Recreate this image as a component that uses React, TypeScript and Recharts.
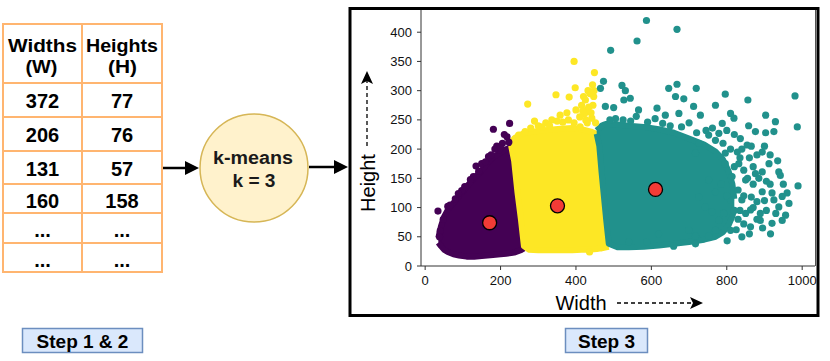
import React from "react";
import { ComposedChart, Area, Scatter, XAxis, YAxis } from "recharts";

const FONT = "'Liberation Sans', Arial, Helvetica, sans-serif";

// ---------- table (Step 1 & 2) ----------
const tableHeaderW = ["Widths", "(W)"];
const tableHeaderH = ["Heights", "(H)"];
const tableWidths = ["372", "206", "131", "160", "...", "..."];
const tableHeights = ["77", "76", "57", "158", "...", "..."];

// ---------- scatter axes ----------
const xTicks = [0, 200, 400, 600, 800, 1000];
const yTicks = [0, 50, 100, 150, 200, 250, 300, 350, 400];

// ---------- dense cluster bodies (x, [low, high]) ----------
const purpleBody = [
  { x: 35, range: [40, 48] },
  { x: 42, range: [34, 68] },
  { x: 50, range: [28, 84] },
  { x: 60, range: [24, 96] },
  { x: 75, range: [20, 108] },
  { x: 90, range: [18, 120] },
  { x: 110, range: [16, 136] },
  { x: 130, range: [16, 150] },
  { x: 150, range: [17, 164] },
  { x: 165, range: [18, 176] },
  { x: 180, range: [19, 186] },
  { x: 200, range: [20, 194] },
  { x: 215, range: [21, 200] },
  { x: 228, range: [22, 204] },
  { x: 236, range: [23, 180] },
  { x: 245, range: [25, 125] },
  { x: 254, range: [27, 80] },
  { x: 262, range: [30, 34] },
];

const yellowBody = [
  { x: 228, range: [206, 212] },
  { x: 236, range: [180, 218] },
  { x: 245, range: [125, 222] },
  { x: 254, range: [80, 225] },
  { x: 262, range: [34, 227] },
  { x: 275, range: [28, 229] },
  { x: 300, range: [27, 231] },
  { x: 330, range: [27, 233] },
  { x: 360, range: [27, 235] },
  { x: 390, range: [27, 236] },
  { x: 415, range: [28, 234] },
  { x: 440, range: [28, 230] },
  { x: 455, range: [29, 226] },
  { x: 462, range: [30, 205] },
  { x: 468, range: [30, 160] },
  { x: 474, range: [31, 120] },
  { x: 480, range: [32, 80] },
  { x: 487, range: [33, 38] },
];

const tealBody = [
  { x: 455, range: [226, 232] },
  { x: 462, range: [205, 236] },
  { x: 468, range: [160, 240] },
  { x: 474, range: [120, 242] },
  { x: 480, range: [80, 243] },
  { x: 487, range: [38, 243] },
  { x: 510, range: [32, 242] },
  { x: 540, range: [32, 240] },
  { x: 580, range: [33, 238] },
  { x: 620, range: [35, 234] },
  { x: 660, range: [38, 228] },
  { x: 700, range: [41, 218] },
  { x: 740, range: [45, 208] },
  { x: 770, range: [50, 196] },
  { x: 790, range: [58, 182] },
  { x: 805, range: [70, 162] },
  { x: 815, range: [85, 140] },
  { x: 820, range: [100, 115] },
];

// ---------- sparse points ----------
const purpleDots = [
  { x: 34, y: 94 }, { x: 97, y: 129 }, { x: 128, y: 153 }, { x: 135, y: 171 },
  { x: 181, y: 234 }, { x: 224, y: 244 }, { x: 217, y: 221 }, { x: 195, y: 198 },
  { x: 168, y: 187 }, { x: 150, y: 175 }, { x: 120, y: 148 }, { x: 205, y: 210 },
  { x: 190, y: 205 }, { x: 210, y: 225 }, { x: 185, y: 200 }, { x: 60, y: 102 },
  { x: 80, y: 115 }, { x: 222, y: 212 }, { x: 40, y: 60 }, { x: 48, y: 80 },
  { x: 66, y: 104 }, { x: 88, y: 124 }, { x: 105, y: 136 }, { x: 142, y: 162 },
  { x: 160, y: 178 }, { x: 175, y: 190 }, { x: 200, y: 202 }, { x: 38, y: 50 },
];

const yellowDots = [
  { x: 272, y: 277 }, { x: 290, y: 248 }, { x: 336, y: 250 }, { x: 347, y: 293 },
  { x: 358, y: 258 }, { x: 376, y: 262 }, { x: 382, y: 289 }, { x: 395, y: 350 },
  { x: 398, y: 305 }, { x: 400, y: 267 }, { x: 411, y: 238 }, { x: 425, y: 284 },
  { x: 429, y: 267 }, { x: 442, y: 253 }, { x: 447, y: 290 }, { x: 444, y: 310 },
  { x: 449, y: 331 }, { x: 423, y: 261 }, { x: 434, y: 272 }, { x: 436, y: 24 },
  { x: 415, y: 275 }, { x: 437, y: 295 }, { x: 430, y: 245 }, { x: 300, y: 240 },
  { x: 320, y: 245 }, { x: 350, y: 248 }, { x: 380, y: 250 }, { x: 248, y: 224 },
  { x: 265, y: 230 }, { x: 410, y: 255 }, { x: 418, y: 265 }, { x: 426, y: 250 },
  { x: 440, y: 262 }, { x: 445, y: 275 }, { x: 452, y: 245 }, { x: 420, y: 290 },
  { x: 432, y: 300 }, { x: 448, y: 300 }, { x: 310, y: 238 }, { x: 365, y: 246 },
  { x: 395, y: 245 }, { x: 240, y: 218 }, { x: 280, y: 236 }, { x: 330, y: 240 },
];

const tealDots = [
  { x: 587, y: 420 }, { x: 668, y: 405 }, { x: 562, y: 385 }, { x: 492, y: 369 },
  { x: 473, y: 316 }, { x: 465, y: 304 }, { x: 522, y: 309 }, { x: 531, y: 300 },
  { x: 646, y: 304 }, { x: 668, y: 311 }, { x: 719, y: 304 }, { x: 664, y: 290 },
  { x: 686, y: 286 }, { x: 796, y: 294 }, { x: 770, y: 275 }, { x: 856, y: 284 },
  { x: 981, y: 291 }, { x: 987, y: 238 }, { x: 989, y: 137 }, { x: 478, y: 273 },
  { x: 500, y: 271 }, { x: 527, y: 284 }, { x: 544, y: 287 }, { x: 566, y: 267 },
  { x: 615, y: 270 }, { x: 637, y: 258 }, { x: 673, y: 261 }, { x: 712, y: 273 },
  { x: 730, y: 258 }, { x: 810, y: 261 }, { x: 819, y: 253 }, { x: 903, y: 258 },
  { x: 929, y: 247 }, { x: 925, y: 230 }, { x: 903, y: 228 }, { x: 876, y: 230 },
  { x: 858, y: 240 }, { x: 788, y: 244 }, { x: 836, y: 218 }, { x: 854, y: 207 },
  { x: 828, y: 195 }, { x: 779, y: 227 }, { x: 752, y: 224 }, { x: 726, y: 210 },
  { x: 717, y: 193 }, { x: 796, y: 193 }, { x: 832, y: 175 }, { x: 912, y: 175 },
  { x: 938, y: 161 }, { x: 942, y: 155 }, { x: 894, y: 161 }, { x: 876, y: 158 },
  { x: 845, y: 164 }, { x: 850, y: 147 }, { x: 814, y: 153 }, { x: 894, y: 127 },
  { x: 920, y: 125 }, { x: 947, y: 119 }, { x: 965, y: 107 }, { x: 938, y: 101 },
  { x: 956, y: 87 }, { x: 947, y: 78 }, { x: 920, y: 73 }, { x: 916, y: 55 },
  { x: 889, y: 90 }, { x: 889, y: 78 }, { x: 863, y: 67 }, { x: 840, y: 50 },
  { x: 801, y: 43 }, { x: 810, y: 61 }, { x: 770, y: 61 }, { x: 752, y: 51 },
  { x: 717, y: 51 }, { x: 699, y: 61 }, { x: 659, y: 34 }, { x: 717, y: 38 },
  { x: 619, y: 55 }, { x: 588, y: 41 }, { x: 540, y: 41 }, { x: 880, y: 110 },
  { x: 863, y: 96 }, { x: 840, y: 113 }, { x: 810, y: 113 }, { x: 792, y: 90 },
  { x: 779, y: 78 }, { x: 761, y: 93 }, { x: 743, y: 101 }, { x: 726, y: 118 },
  { x: 752, y: 147 }, { x: 770, y: 127 }, { x: 796, y: 175 }, { x: 894, y: 195 },
  { x: 925, y: 113 }, { x: 870, y: 140 }, { x: 860, y: 185 }, { x: 905, y: 145 },
  { x: 880, y: 80 }, { x: 905, y: 95 }, { x: 830, y: 80 }, { x: 860, y: 55 },
  { x: 700, y: 245 }, { x: 610, y: 252 }, { x: 560, y: 256 }, { x: 745, y: 232 },
  { x: 830, y: 130 }, { x: 845, y: 120 }, { x: 855, y: 150 }, { x: 870, y: 170 },
  { x: 880, y: 190 }, { x: 900, y: 205 }, { x: 915, y: 190 }, { x: 935, y: 180 },
  { x: 950, y: 140 }, { x: 960, y: 125 }, { x: 870, y: 100 }, { x: 850, y: 90 },
  { x: 835, y: 95 }, { x: 825, y: 62 }, { x: 845, y: 72 }, { x: 895, y: 65 },
  { x: 930, y: 90 }, { x: 900, y: 112 }, { x: 865, y: 118 }, { x: 885, y: 150 },
  { x: 915, y: 140 }, { x: 820, y: 170 }, { x: 835, y: 185 }, { x: 810, y: 200 },
  { x: 790, y: 210 }, { x: 770, y: 215 }, { x: 840, y: 200 }, { x: 865, y: 205 },
  { x: 820, y: 225 }, { x: 800, y: 232 }, { x: 762, y: 236 },
  { x: 490, y: 250 }, { x: 505, y: 252 }, { x: 525, y: 250 }, { x: 545, y: 248 },
  { x: 590, y: 246 }, { x: 630, y: 244 }, { x: 650, y: 240 }, { x: 680, y: 238 },
  { x: 720, y: 228 }, { x: 785, y: 140 }, { x: 800, y: 120 }, { x: 820, y: 95 },
];

const centroids = [
  { x: 171, y: 74 },
  { x: 351, y: 103 },
  { x: 611, y: 131 },
];

const PURPLE = "#440154";
const YELLOW = "#FDE725";
const TEAL = "#21918C";

const makeDot = (color: string, r: number) => (props: any) => (
  <circle cx={props.cx} cy={props.cy} r={r} fill={color} />
);

const Centroid = (props: any) => (
  <circle cx={props.cx} cy={props.cy} r={7} fill="#F23B36" stroke="#000" strokeWidth={1.3} />
);

const rowLines = [83, 117, 151, 184, 213, 243];
const rowBaselines = [108, 142, 176, 208, 237, 267];

function Overlay() {
  const orange = "#FFB570";
  return (
    <svg
      width={830}
      height={361}
      style={{ position: "absolute", left: 0, top: 0, pointerEvents: "none" }}
      fontFamily={FONT}
    >
      {/* table */}
      <rect x={3} y={24} width={159} height={248} fill="none" stroke={orange} strokeWidth={2} />
      <line x1={82} y1={24} x2={82} y2={272} stroke={orange} strokeWidth={2} />
      {rowLines.map((y) => (
        <line key={y} x1={3} y1={y} x2={162} y2={y} stroke={orange} strokeWidth={2} />
      ))}
      <text x={42.5} y={52} textAnchor="middle" fontSize={18} fontWeight="bold" fill="#000" textLength={69} lengthAdjust="spacingAndGlyphs">{tableHeaderW[0]}</text>
      <text x={41.5} y={73} textAnchor="middle" fontSize={18} fontWeight="bold" fill="#000" textLength={32} lengthAdjust="spacingAndGlyphs">{tableHeaderW[1]}</text>
      <text x={122} y={52} textAnchor="middle" fontSize={18} fontWeight="bold" fill="#000" textLength={72} lengthAdjust="spacingAndGlyphs">{tableHeaderH[0]}</text>
      <text x={122.5} y={73} textAnchor="middle" fontSize={18} fontWeight="bold" fill="#000" textLength={29} lengthAdjust="spacingAndGlyphs">{tableHeaderH[1]}</text>
      {tableWidths.map((v, i) => (
        <text key={"w" + i} x={42.5} y={rowBaselines[i]} textAnchor="middle" fontSize={20} fontWeight="bold" fill="#000">{v}</text>
      ))}
      {tableHeights.map((v, i) => (
        <text key={"h" + i} x={122} y={rowBaselines[i]} textAnchor="middle" fontSize={20} fontWeight="bold" fill="#000">{v}</text>
      ))}

      {/* arrow 1 */}
      <line x1={163} y1={168} x2={188} y2={168} stroke="#000" strokeWidth={2.5} />
      <polygon points="185,161 199,168 185,175" fill="#000" />

      {/* k-means circle */}
      <circle cx={254} cy={168} r={54} fill="#FFF2CC" stroke="#D6B656" strokeWidth={1.5} />
      <text x={253} y={164} textAnchor="middle" fontSize={18} fontWeight="bold" fill="#1a1a1a" textLength={80} lengthAdjust="spacingAndGlyphs">k-means</text>
      <text x={254} y={187} textAnchor="middle" fontSize={18} fontWeight="bold" fill="#1a1a1a" textLength={43} lengthAdjust="spacingAndGlyphs">k = 3</text>

      {/* arrow 2 */}
      <line x1={309} y1={167} x2={337} y2={167} stroke="#000" strokeWidth={2.5} />
      <polygon points="334,160 348,167 334,174" fill="#000" />

      {/* step 3 frame */}
      <rect x={350} y={8.5} width={468} height={307} fill="none" stroke="#000" strokeWidth={3} />

      {/* plot right frame line */}
      <line x1={815.5} y1={10} x2={815.5} y2={266} stroke="#555" strokeWidth={1} />

      {/* Height label + dashed arrow */}
      <text x={375} y={183} textAnchor="middle" fontSize={20} fill="#000" transform="rotate(-90 375 183)">Height</text>
      <line x1={367} y1={146} x2={367} y2={80} stroke="#000" strokeWidth={1.3} strokeDasharray="4 3" />
      <polygon points="367,71 373,84 367,81 361,84" fill="#000" />

      {/* Width label + dashed arrow */}
      <text x={581} y={310} textAnchor="middle" fontSize={20} fill="#000">Width</text>
      <line x1={617} y1={303} x2={694} y2={303} stroke="#000" strokeWidth={1.3} strokeDasharray="4 3" />
      <polygon points="703,303 690,297 693,303 690,309" fill="#000" />

      {/* step labels */}
      <rect x={22.5} y={328.5} width={120} height={24} fill="#DAE8FC" stroke="#6C8EBF" strokeWidth={1.5} />
      <text x={82.5} y={348} textAnchor="middle" fontSize={19} fontWeight="bold" fill="#000">Step 1 &amp; 2</text>
      <rect x={565.5} y={328.5} width={82} height={24} fill="#DAE8FC" stroke="#6C8EBF" strokeWidth={1.5} />
      <text x={606.5} y={348} textAnchor="middle" fontSize={19} fontWeight="bold" fill="#000">Step 3</text>
    </svg>
  );
}

export default function App() {
  const tick = { fontSize: 13, fill: "#111", fontFamily: FONT };
  return (
    <div style={{ position: "absolute", left: 0, top: 0, width: 830, height: 361, background: "#fff" }}>
      <div style={{ position: "absolute", left: 0, top: 0 }}>
        <ComposedChart
          width={830}
          height={361}
          margin={{ top: 10, right: 15, bottom: 65, left: 381 }}
        >
          <XAxis
            dataKey="x"
            type="number"
            domain={[-11, 1034]}
            ticks={xTicks}
            allowDataOverflow
            height={30}
            tickSize={4}
            tickMargin={6}
            tick={tick}
            stroke="#333"
            interval={0}
          />
          <YAxis
            type="number"
            domain={[0, 438]}
            ticks={yTicks}
            allowDataOverflow
            width={40}
            tickSize={4}
            tickMargin={5}
            tick={tick}
            stroke="#333"
            interval={0}
          />
          <Area data={purpleBody} dataKey="range" type="linear" fill={PURPLE} fillOpacity={1} stroke={PURPLE} strokeWidth={6} strokeLinejoin="round" dot={false} activeDot={false} isAnimationActive={false} />
          <Scatter data={purpleDots} dataKey="y" shape={makeDot(PURPLE, 3.6)} isAnimationActive={false} />
          <Area data={yellowBody} dataKey="range" type="linear" fill={YELLOW} fillOpacity={1} stroke={YELLOW} strokeWidth={6} strokeLinejoin="round" dot={false} activeDot={false} isAnimationActive={false} />
          <Scatter data={yellowDots} dataKey="y" shape={makeDot(YELLOW, 3.6)} isAnimationActive={false} />
          <Area data={tealBody} dataKey="range" type="linear" fill={TEAL} fillOpacity={1} stroke={TEAL} strokeWidth={6} strokeLinejoin="round" dot={false} activeDot={false} isAnimationActive={false} />
          <Scatter data={tealDots} dataKey="y" shape={makeDot(TEAL, 3.6)} isAnimationActive={false} />
          <Scatter data={centroids} dataKey="y" shape={Centroid} isAnimationActive={false} />
        </ComposedChart>
      </div>
      <Overlay />
    </div>
  );
}
